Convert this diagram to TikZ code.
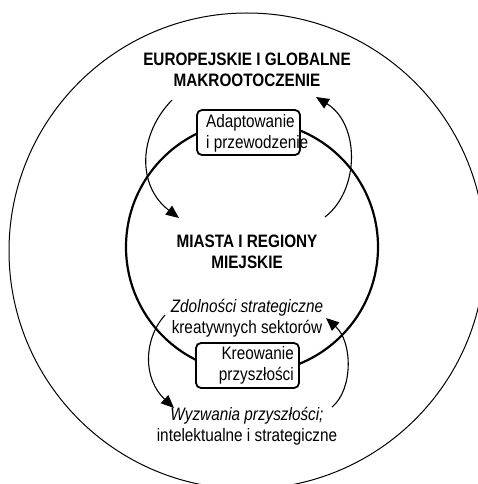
\documentclass[tikz,border=0pt]{standalone}
\usepackage{fontspec}
\setmainfont{Liberation Sans}[FakeStretch=0.85]
\usetikzlibrary{arrows.meta}
\begin{document}
\begin{tikzpicture}[x=1pt,y=-1pt,
  every node/.style={inner sep=0pt, font=\fontsize{18}{21}\selectfont},
  boxstyle/.style={draw, line width=1.8pt, rounded corners=5pt, fill=white, minimum width=103pt, minimum height=45pt},
  flow/.style={line width=1.1pt, -{Triangle[length=13pt,width=11pt]}},
  label/.style={align=center}]
\useasboundingbox (0,0) rectangle (477,484);
\fill[white] (0,0) rectangle (477,484);
% circles
\draw[line width=1pt] (247,251) circle[radius=238];
\draw[line width=2.2pt] (252,247) circle[radius=126];
% boxes
\node[boxstyle] (b1) at (248.5,132.5) {};
\node[boxstyle] (b2) at (247.5,365.5) {};
\node[anchor=west, align=left] (t1) at (206,133) {Adaptowanie\\i przewodzenie};
\node[anchor=east, align=right] (t2) at (294,365) {Kreowanie\\przyszłości};
% labels
\node[label, font=\fontsize{18}{21}\selectfont\bfseries] (env) at (247,69.5) {EUROPEJSKIE I GLOBALNE\\MAKROOTOCZENIE};
\node[label, font=\fontsize{18}{21}\selectfont\bfseries] (city) at (247,252) {MIASTA I REGIONY\\MIEJSKIE};
\node[label] (cap) at (247,318) {\textit{Zdolności strategiczne}\\kreatywnych sektorów};
\node[label] (chal) at (247,426) {\textit{Wyzwania przyszłości;}\\intelektualne i strategiczne};
% arrow end points
\coordinate (a1s) at (172,100);
\coordinate (a1e) at (179,218);
\coordinate (a2s) at (325,217);
\coordinate (a2e) at (316,97);
\coordinate (a3s) at (165,315);
\coordinate (a3e) at (174,408);
\coordinate (a4s) at (332,407);
\coordinate (a4e) at (326,318);
\draw[flow] (a1s) .. controls (138,135) and (137,186) .. (a1e);
\draw[flow] (a2s) .. controls (360,190) and (360,124) .. (a2e);
\draw[flow] (a3s) .. controls (143,340) and (143,379) .. (a3e);
\draw[flow] (a4s) .. controls (353,390) and (353,342) .. (a4e);
\end{tikzpicture}
\end{document}
